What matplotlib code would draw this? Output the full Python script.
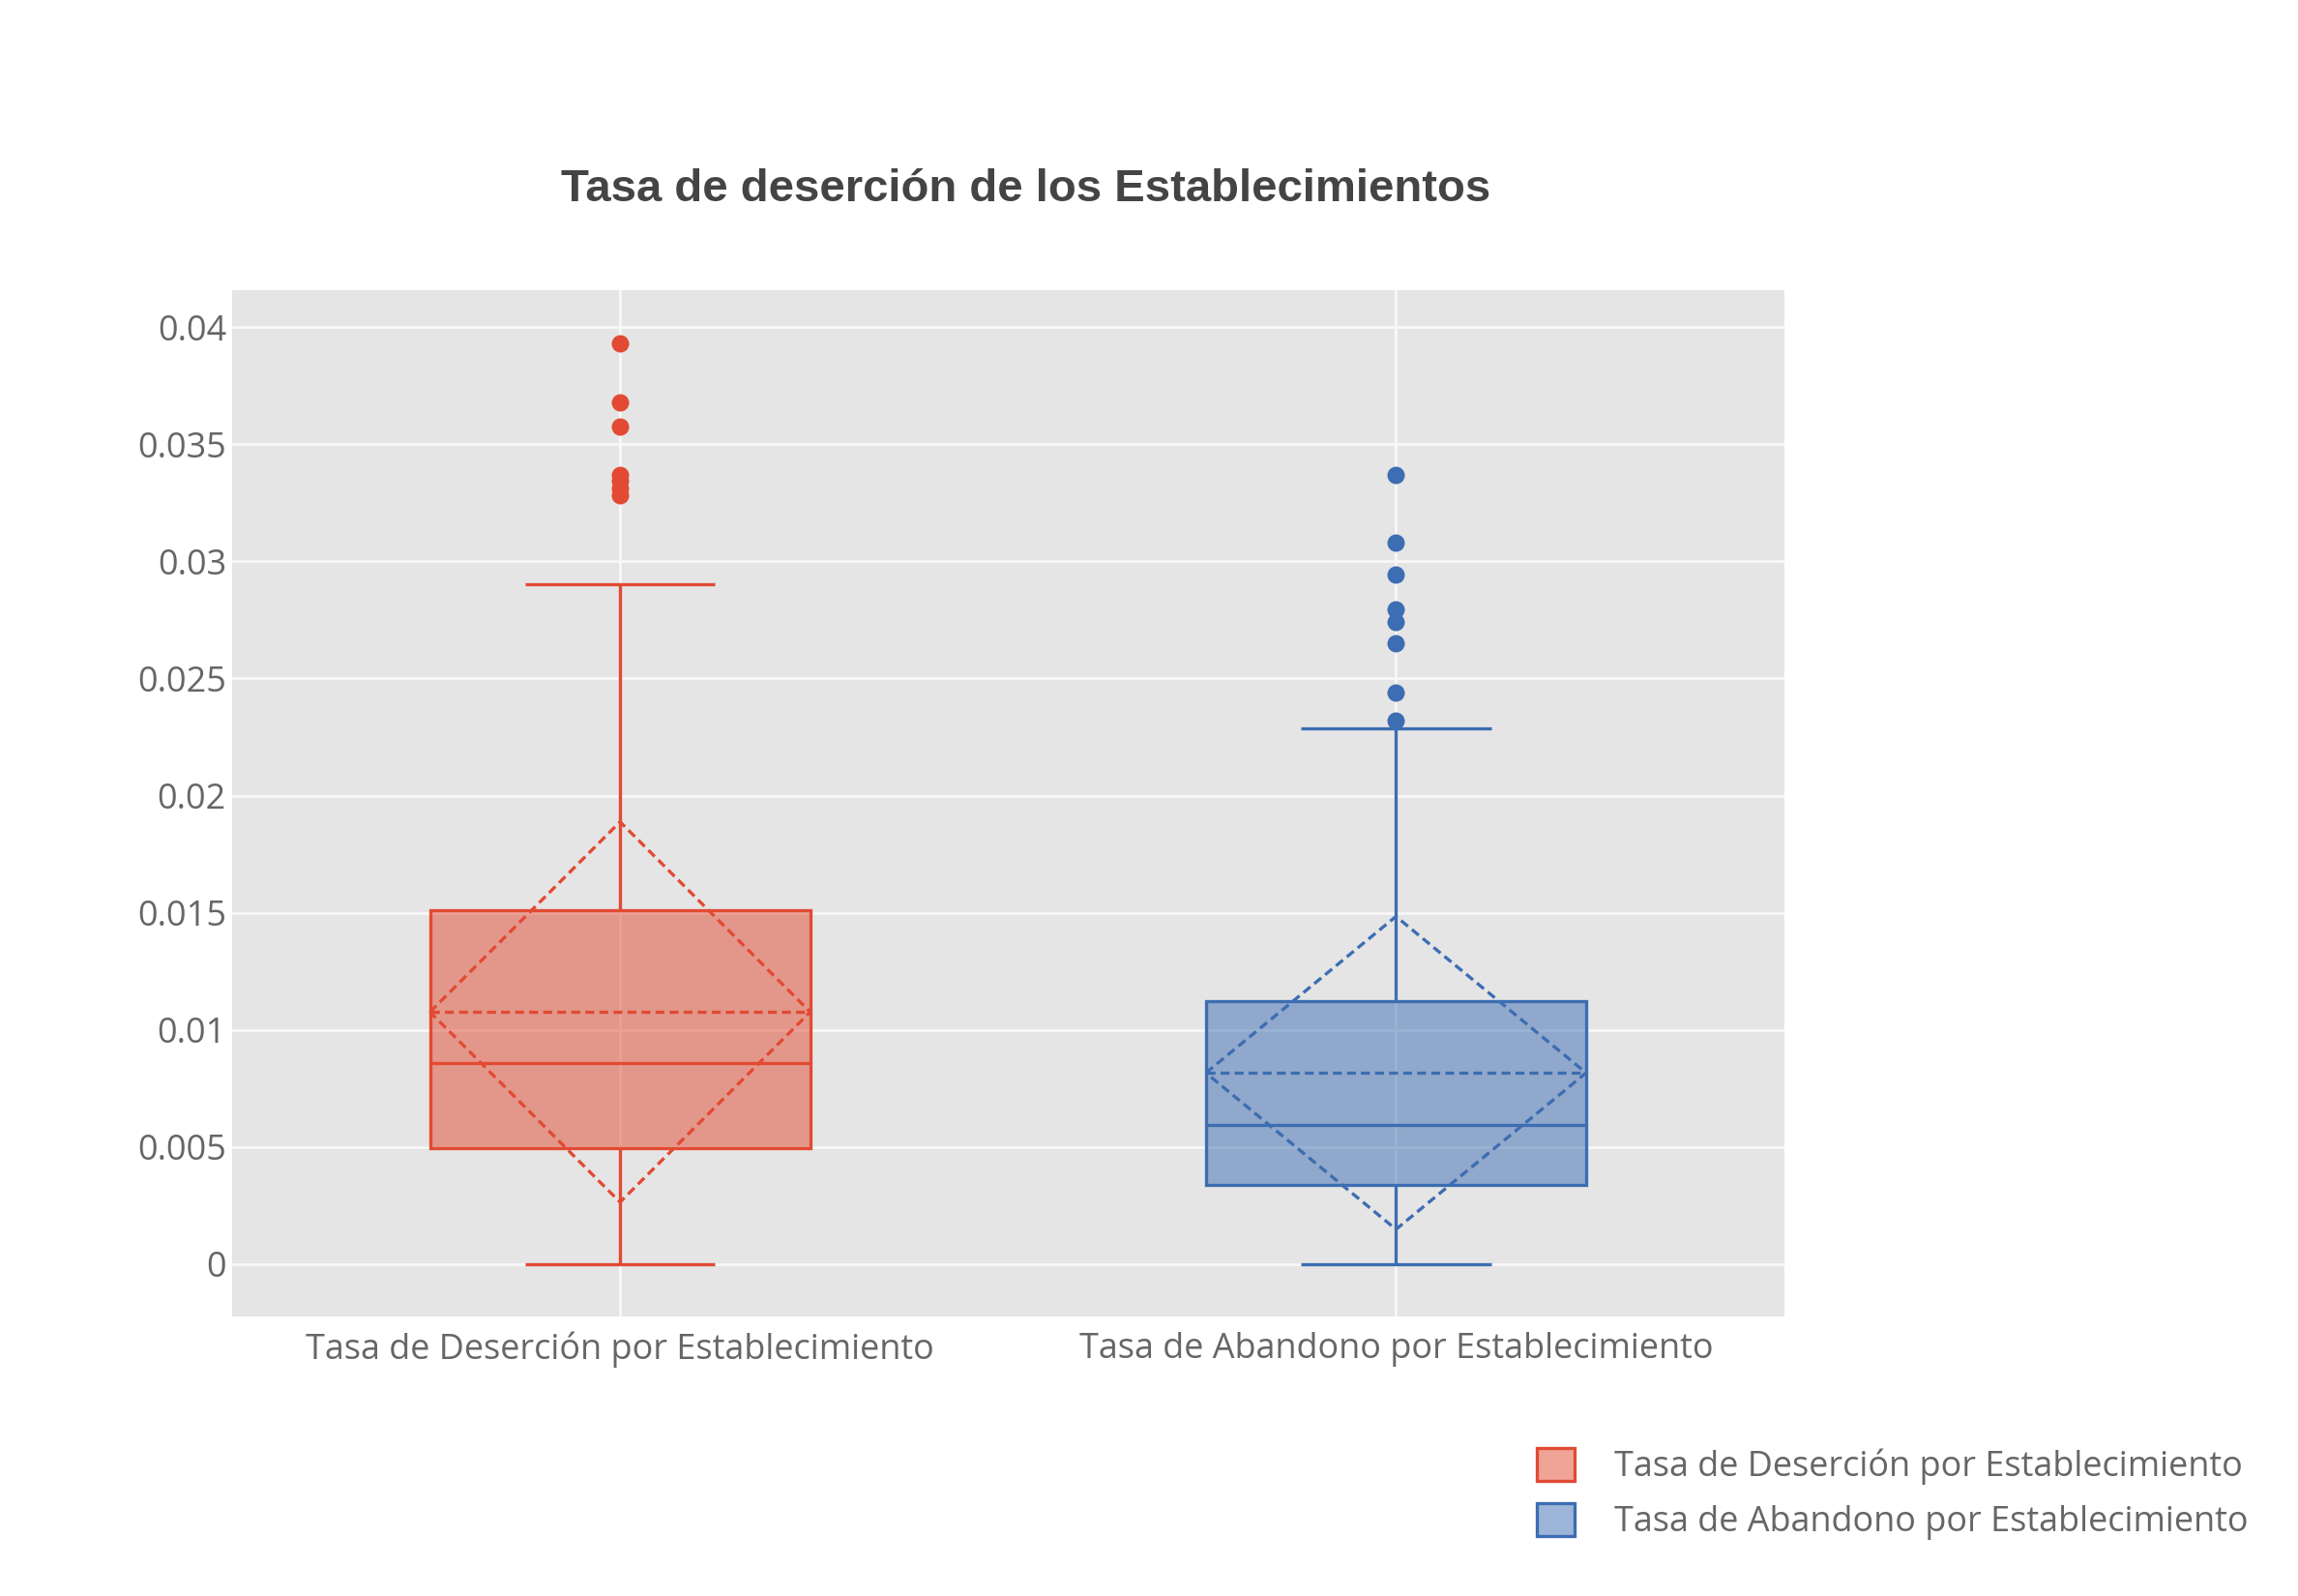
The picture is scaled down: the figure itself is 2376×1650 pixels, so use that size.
import matplotlib
matplotlib.use("Agg")
import matplotlib.pyplot as plt
from matplotlib.patches import Patch
from matplotlib.ticker import FuncFormatter

# ---- data ----
categories = ["Tasa de Deserción por Establecimiento",
              "Tasa de Abandono por Establecimiento"]
q1 = [0.00495, 0.00337]
medians = [0.00859, 0.00595]
q3 = [0.01512, 0.01123]
whisk_lo = [0.0, 0.0]
whisk_hi = [0.02902, 0.02289]
means = [0.01076, 0.00816]
sds = [0.00812, 0.00668]
outliers_desercion = [0.03931, 0.03679, 0.03574, 0.03370, 0.03345, 0.03310, 0.03283]
outliers_abandono = [0.03368, 0.03078, 0.02942, 0.02796, 0.02743, 0.02652, 0.02441, 0.02322]
yticks = [0, 0.005, 0.01, 0.015, 0.02, 0.025, 0.03, 0.035, 0.04]

COLORS = ["#E24A33", "#3D6DB2"]
BG, GRID, TXT = "#E5E5E5", "#F8F8F8", "#666666"
PX = 72 / 100          # points per pixel at dpi 100
W_BOX, W_CAP = 0.49, 0.245

fig = plt.figure(figsize=(23.76, 16.5), dpi=100)
ax = fig.add_axes([240 / 2376, 1 - 1361 / 1650, (1844.5 - 240) / 2376, (1361 - 300) / 1650])
ax.set_facecolor(BG)

stats = []
for i, lab in enumerate(categories):
    stats.append(dict(label=lab, q1=q1[i], med=medians[i], q3=q3[i],
                      whislo=whisk_lo[i], whishi=whisk_hi[i],
                      fliers=[outliers_desercion, outliers_abandono][i]))

lw = 3.3 * PX
art = ax.bxp(stats, positions=[0, 1], widths=W_BOX, capwidths=W_CAP,
             patch_artist=True, showfliers=True, manage_ticks=False)
for i, c in enumerate(COLORS):
    box = art["boxes"][i]
    box.set_facecolor(matplotlib.colors.to_rgba(c, 0.5))
    box.set_edgecolor(c); box.set_linewidth(lw); box.set_zorder(3)
    art["medians"][i].set(color=c, lw=lw, zorder=4)
    for ln in art["whiskers"][2 * i:2 * i + 2] + art["caps"][2 * i:2 * i + 2]:
        ln.set(color=c, lw=lw, zorder=3, solid_capstyle="butt")
    art["fliers"][i].set(marker="o", markerfacecolor=c, markeredgewidth=0,
                         markersize=18 * PX, zorder=5)
    # mean +/- sd diamond
    x, m, s, h = i, means[i], sds[i], W_BOX / 2
    ax.plot([x - h, x, x + h, x, x - h], [m, m + s, m, m - s, m], color=c, lw=lw,
            ls=(0, (2.8, 1.6)), zorder=4)
    ax.plot([x - h, x + h], [m, m], color=c, lw=lw, ls=(0, (2.8, 1.6)), zorder=4)

ax.set_xlim(-0.5, 1.5)
ax.set_ylim(-0.00224, 0.04158)
ax.set_xticks([0, 1])
ax.set_xticklabels(categories)
ax.set_yticks(yticks)
ax.yaxis.set_major_formatter(FuncFormatter(lambda v, _: f"{v:g}"))
ax.grid(True, color=GRID, lw=2.7 * PX)
ax.set_axisbelow(True)
for sp in ax.spines.values():
    sp.set_visible(False)
ax.tick_params(axis="both", length=0, labelsize=36 * PX, labelcolor=TXT)
ax.tick_params(axis="y", pad=6 * PX)
ax.tick_params(axis="x", pad=16 * PX)
for t in ax.get_xticklabels() + ax.get_yticklabels():
    t.set_fontfamily("Open Sans")

fig.text(1061 / 2376, 1 - 208 / 1650, "Tasa de deserción de los Establecimientos",
         ha="center", va="baseline", fontsize=47.3 * PX, fontweight="bold",
         family="Liberation Sans", color="#444444")

handles = [Patch(facecolor=matplotlib.colors.to_rgba(c, 0.5), edgecolor=c, lw=lw, label=l)
           for c, l in zip(COLORS, categories)]
leg = fig.legend(handles=handles, loc="upper left",
                 bbox_to_anchor=(1589 / 2376, 1 - 1497 / 1650),
                 frameon=False, borderpad=0, borderaxespad=0,
                 handlelength=1.08, handleheight=1.08, handletextpad=1.15,
                 labelspacing=0.52, prop={"family": "Open Sans", "size": 36 * PX})
for t in leg.get_texts():
    t.set_color(TXT)

fig.savefig("out.png", dpi=100, facecolor="white")
